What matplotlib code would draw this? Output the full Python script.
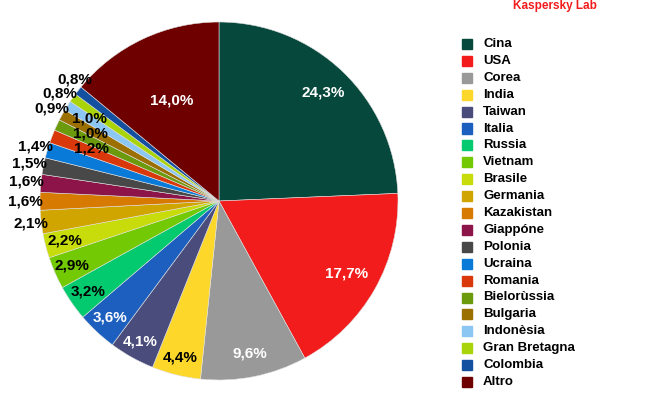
import numpy as np
import matplotlib
matplotlib.use('Agg')
from matplotlib import pyplot as plt

plt.rcParams['font.family'] = ['Liberation Sans', 'DejaVu Sans']

## data
countries = ['Cina', 'USA', 'Corea', 'India', 'Taiwan', 'Italia', 'Russia', 'Vietnam',
             'Brasile', 'Germania', 'Kazakistan', 'Giappóne', 'Polonia', 'Ucraina',
             'Romania', 'Bielorùssia', 'Bulgaria', 'Indonèsia', 'Gran Bretagna',
             'Colombia', 'Altro']
shares = [24.3, 17.7, 9.6, 4.4, 4.1, 3.6, 3.2, 2.9, 2.2, 2.1, 1.6, 1.6, 1.5, 1.4,
          1.2, 1.0, 1.0, 0.9, 0.8, 0.8, 14.0]

## styles
colors = ['#07483c', '#f21c1c', '#999999', '#fdd82a', '#4a4c7c', '#1c5fbf', '#03c96f',
          '#73c903', '#c7dc0a', '#d0a500', '#d67a02', '#8c1448', '#484848', '#0a7ad8',
          '#d8380a', '#6b9a0d', '#9b7000', '#8cc6f2', '#a9d40a', '#1450a0', '#6e0000']
label_dist = [0.84, 0.82, 0.87, 0.90, 0.90, 0.89, 0.89, 0.90, 0.89, 1.06, 1.08, 1.08,
              1.08, 1.07, 0.77, 0.81, 0.86, 1.07, 1.075, 1.05, 0.62]
# angular nudge of labels (degrees) so the small ones do not pile up
label_shift = [0, 0, 0, 0, 0, 0, 0, 0, 0, 0, 0, 0, 0, 0,
               -1.2, -2.6, -3.8, 3.2, 1.3, -2.0, 0]
white_labels = {'Cina', 'USA', 'Corea', 'Taiwan', 'Italia', 'Altro'}

fig = plt.figure(figsize=(6.5, 4), dpi=100)
ax = fig.add_axes([40/650, 20/400, 358/650, 358/400])

wedges, _ = ax.pie(shares, colors=colors, startangle=90, counterclock=False,
                   radius=1, wedgeprops=dict(edgecolor='#e0e0e0', linewidth=0.4))
ax.set_xlim(-1, 1)
ax.set_ylim(-1, 1)
ax.axis('off')

for w, name, v, d, s in zip(wedges, countries, shares, label_dist, label_shift):
    ang = np.deg2rad((w.theta1 + w.theta2) / 2 + s)
    txt = ('%.1f' % v).replace('.', ',') + '%'
    col = 'white' if name in white_labels else 'black'
    ax.text(d*np.cos(ang), d*np.sin(ang), txt, ha='center', va='center',
            fontsize=11, fontweight='bold', color=col, clip_on=False)

## legend drawn by hand
y0 = 44
step = 16.9
for i, (name, c) in enumerate(zip(countries, colors)):
    y = 1 - (y0 + i*step) / 400
    fig.patches.append(plt.Rectangle((462/650, y - 5/400), 10/650, 10/400,
                                     transform=fig.transFigure, color=c))
    fig.text(483/650, y, name, fontsize=9.5, fontweight='bold', va='center', ha='left')

fig.text(555/650, 1 - 6/400, 'Kaspersky Lab', color='#f21c1c', fontsize=8.5,
         fontweight='bold', ha='center', va='center')

plt.savefig('out.png', dpi=100)
